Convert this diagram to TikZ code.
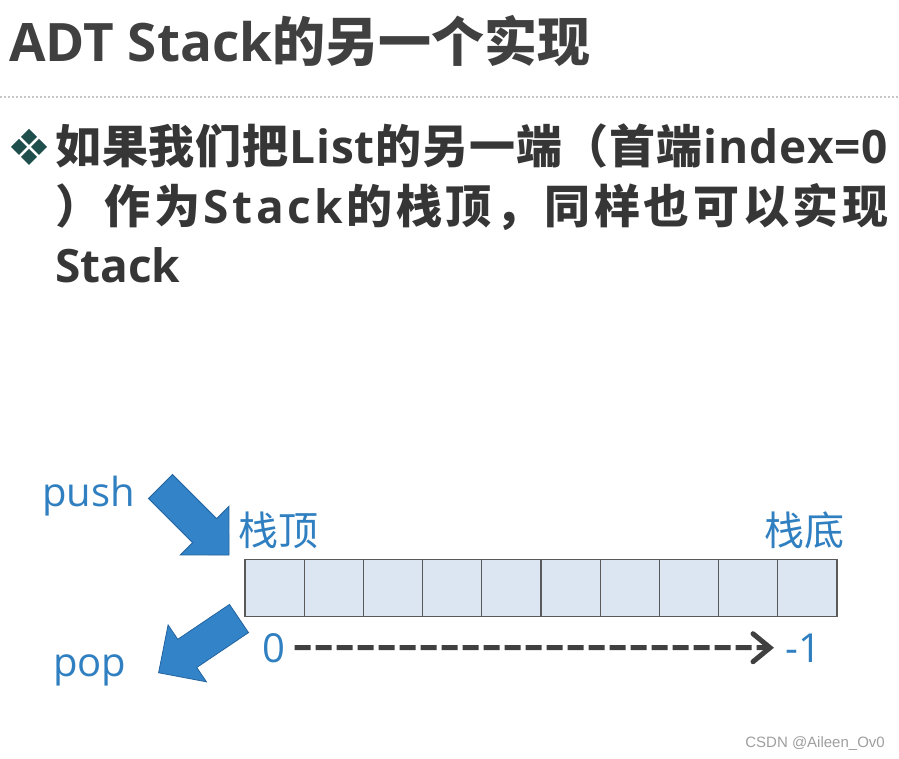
\documentclass[tikz,border=0pt]{standalone}
\usepackage{fontspec}
\setmainfont{Open Sans}
\newfontfamily\cjk{Noto Sans CJK SC}
\newfontfamily\csdnfont{Liberation Sans}
\usepackage{tikz}
\usetikzlibrary{
    arrows.meta,
    positioning,
    calc
}
\definecolor{titlegray}{HTML}{404040}
\definecolor{textgray}{HTML}{363636}
\definecolor{slideblue}{HTML}{2F7FC1}
\definecolor{arrowblue}{HTML}{3383C9}
\definecolor{arrowedge}{HTML}{24649E}
\definecolor{cellfill}{HTML}{DCE6F2}
\definecolor{celledge}{HTML}{5A5A5A}
\definecolor{bulletteal}{HTML}{1F4F4C}
\definecolor{dashgray}{HTML}{404040}

\def\mixchar#1{\ifnum`#1<256\relax #1\else{\cjk #1}\fi}
\def\spreadrest#1{\ifx\relax#1\else\hfil\mixchar{#1}\expandafter\spreadrest\fi}
\def\spreadfirst#1{\mixchar{#1}\spreadrest}
\newcommand\spreadline[2]{\makebox[#1][s]{\spreadfirst#2\relax}}

\tikzset{
    titletext/.style={text=titlegray, inner sep=0, font=\bfseries\fontsize{53}{60}\selectfont},
    bodytext/.style={text=textgray, inner sep=0, font=\bfseries\fontsize{46}{56}\selectfont},
    lbl/.style={text=slideblue, inner sep=0, font=\fontsize{40}{48}\selectfont},
    cell/.style={draw=celledge, fill=cellfill, line width=1.3pt, minimum width=59.2pt,
        minimum height=57pt, inner sep=0, outer sep=0},
    idxarrow/.style={draw=dashgray, line width=5pt, dash pattern=on 16pt off 5pt,
        -{Straight Barb[length=17pt, width=28pt, line cap=round]}},
    dotline/.style={draw=gray!45, line width=1.5pt, dash pattern=on 1.5pt off 2.5pt},
    blockarrow/.pic={
        \fill[arrowblue, draw=arrowedge, line width=0.8pt]
        (0,17) -- (62.4,17) -- (62.4,34.3) -- (97,0) -- (62.4,-34.3) -- (62.4,-17) -- (0,-17) -- cycle;
    }
}

\begin{document}
\begin{tikzpicture}[x=1pt, y=-1pt]
    \fill[white] (0,0) rectangle (899,759);
    \useasboundingbox (0,0) rectangle (899,759);
    \node[titletext, anchor=base west] (title) at (9,62) {ADT Stack{\cjk 的另一个实现}};
    \draw[dotline] (0,97) -- (899,97);
    \foreach \dx/\dy in {0/-10, -10/0, 10/0, 0/10}
        \fill[bulletteal, shift={(29+\dx,147+\dy)}] (0,-8) -- (8,0) -- (0,8) -- (-8,0) -- cycle;
    \node[bodytext, anchor=base west] (line1) at (55,164) {\spreadline{833pt}{如果我们把List的另一端（首端index=0}};
    \node[bodytext, anchor=base west] (line2) at (55,224) {\spreadline{833pt}{）作为Stack的栈顶，同样也可以实现}};
    \node[bodytext, anchor=base west] (line3) at (55,283) {Stack};
    \foreach \i in {1,...,10}
        \node[cell] (cell\i) at ({245+59.2*(\i-0.5)}, 588) {};
    \node[lbl, anchor=base west] (stacktop) at ([xshift=-7pt, yshift=14pt]cell1.north west) {\cjk 栈顶};
    \node[lbl, anchor=base east] (stackbottom) at ([xshift=8pt, yshift=14pt]cell10.north east) {\cjk 栈底};
    \node[lbl, anchor=base west] (push) at (42,506) {push};
    \node[lbl, anchor=base west] (pop) at (53,676) {pop};
    \node[lbl, anchor=base, inner sep=9pt] (idxfirst) at (274,662) {0};
    \node[lbl, anchor=base, inner sep=11pt] (idxlast) at (803,662) {-1};
    \draw[idxarrow] (idxfirst) -- (idxlast);
    \pic[rotate=-45] at (160.5,486.5) {blockarrow};
    \pic[rotate=214] at (239,618.5) {blockarrow};
    \node[text=gray!75, inner sep=0, anchor=base east, font=\csdnfont\fontsize{15}{18}\selectfont] (mark) at (885,747) {CSDN @Aileen\_Ov0};
\end{tikzpicture}
\end{document}
